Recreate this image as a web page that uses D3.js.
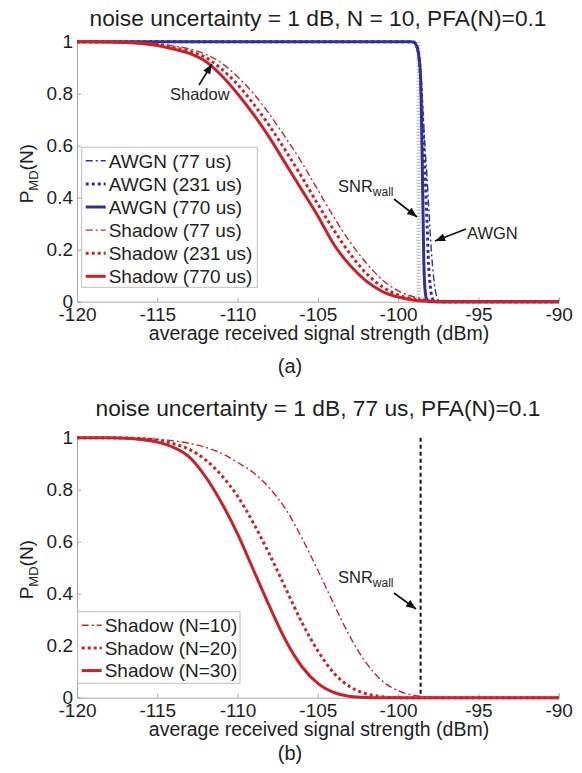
<!DOCTYPE html>
<html>
<head>
<meta charset="utf-8">
<script src="https://cdn.jsdelivr.net/npm/d3@7"></script>
<style>
body { margin: 0; background: #fff; }
text { font-family: "Liberation Sans", Arial, sans-serif; fill: #1e1e1e; }
</style>
</head>
<body>
<svg id="chart" width="582" height="773"></svg>
<script>
// tick labels
var xTicks = [-120, -115, -110, -105, -100, -95, -90];
var yTicks = [0, 0.2, 0.4, 0.6, 0.8, 1];

// signal strength grid (dBm) for the shadow curves
var xs = [-120, -119, -118, -117, -116, -115, -114, -113, -112, -111, -110, -109, -108, -107, -106,
          -105, -104, -103, -102, -101, -100, -99, -98, -97, -96, -95, -94, -93, -92, -91, -90];

// panel (a): shadow curves
var shadow77  = [1, 1, 1, 0.999, 0.997, 0.992, 0.984, 0.972, 0.952, 0.918, 0.865, 0.80, 0.72, 0.63, 0.535,
                 0.43, 0.325, 0.23, 0.15, 0.085, 0.042, 0.018, 0.006, 0.002, 0, 0, 0, 0, 0, 0, 0];
var shadow231 = [1, 1, 1, 0.998, 0.995, 0.989, 0.978, 0.963, 0.94, 0.895, 0.835, 0.76, 0.675, 0.58, 0.48,
                 0.375, 0.275, 0.185, 0.11, 0.058, 0.026, 0.01, 0.003, 0, 0, 0, 0, 0, 0, 0, 0];
var shadow770 = [1, 1, 0.999, 0.997, 0.993, 0.985, 0.972, 0.955, 0.925, 0.87, 0.80, 0.72, 0.63, 0.53, 0.43,
                 0.33, 0.22, 0.14, 0.08, 0.04, 0.018, 0.006, 0.002, 0, 0, 0, 0, 0, 0, 0, 0];

// panel (a): AWGN curves (finer grid near the wall)
var awgnX   = [-120, -99.2, -99, -98.9, -98.8, -98.7, -98.6, -98.5, -98.4, -98.3, -98.2, -98.1, -98,
               -97.9, -97.8, -97.7, -97.6, -97.5, -97.4, -97.3, -90];
var awgn77  = [1, 1, 0.995, 0.985, 0.965, 0.93, 0.86, 0.77, 0.67, 0.57, 0.48, 0.37, 0.26,
               0.17, 0.1, 0.05, 0.02, 0.007, 0.002, 0, 0];
var awgn231 = [1, 1, 0.998, 0.99, 0.975, 0.94, 0.86, 0.74, 0.6, 0.46, 0.3, 0.14, 0.06,
               0.02, 0.005, 0, 0, 0, 0, 0, 0];
var awgn770 = [1, 1, 0.998, 0.99, 0.975, 0.94, 0.86, 0.55, 0.15, 0.03, 0.005, 0, 0,
               0, 0, 0, 0, 0, 0, 0, 0];

// panel (b): shadow, 77 us
var shadowN10 = [1, 1, 1, 1, 0.998, 0.994, 0.988, 0.978, 0.963, 0.94, 0.905, 0.865, 0.805, 0.725, 0.615,
                 0.49, 0.36, 0.235, 0.135, 0.065, 0.027, 0.009, 0.002, 0, 0, 0, 0, 0, 0, 0, 0];
var shadowN20 = [1, 1, 1, 0.999, 0.996, 0.99, 0.977, 0.955, 0.915, 0.855, 0.775, 0.67, 0.55, 0.42, 0.29,
                 0.18, 0.095, 0.042, 0.015, 0.004, 0, 0, 0, 0, 0, 0, 0, 0, 0, 0, 0];
var shadowN30 = [1, 1, 1, 0.998, 0.993, 0.983, 0.963, 0.925, 0.85, 0.75, 0.63, 0.49, 0.35, 0.22, 0.12,
                 0.055, 0.02, 0.005, 0.001, 0, 0, 0, 0, 0, 0, 0, 0, 0, 0, 0, 0];

var snrWall = -98.6;

var RED = "#cb2229", BLUE = "#30309a";

// line styles
var styles = {
    dashdot: {w: 1.4, dash: "7,3,2,3"},
    dotted:  {w: 3,   dash: "3,3"},
    solid:   {w: 3,   dash: null}
};

var svg = d3.select("#chart");

// arrow head
svg.append("defs").append("marker")
    .attr("id", "arrow")
    .attr("markerUnits", "userSpaceOnUse")
    .attr("viewBox", "0 0 10 8")
    .attr("refX", 10).attr("refY", 4)
    .attr("markerWidth", 11).attr("markerHeight", 8)
    .attr("orient", "auto")
    .append("path").attr("d", "M0,0 L10,4 L0,8 Z").attr("fill", "#111");

function zip(x, y) {
    return x.map(function(d, i) { return {x: d, y: y[i]}; });
}

function drawPanel(p) {
    var x = d3.scaleLinear().domain([-120, -90]).range([77, 558.7]);
    var y = d3.scaleLinear().domain([0, 1]).range([p.y0, p.y0 - 260]);
    var g = svg.append("g");

    // axes (left + bottom only, ticks inward), plain hyphen minus like the original
    var xAxis = d3.axisBottom(x).tickValues(xTicks).tickSize(-4).tickFormat(function(d) { return String(d); });
    var yAxis = d3.axisLeft(y).tickValues(yTicks).tickSize(-4).tickFormat(function(d) { return d === 0 || d === 1 ? String(d) : d.toFixed(1); });

    var gx = g.append("g").attr("transform", "translate(0," + p.y0 + ")").call(xAxis);
    var gy = g.append("g").attr("transform", "translate(77,0)").call(yAxis);
    [gx, gy].forEach(function(a) {
        a.select(".domain").attr("stroke", "#a8a8a8");
        a.selectAll(".tick line").attr("stroke", "#a8a8a8");
        a.selectAll(".tick text").attr("font-size", 19).attr("fill", "#1e1e1e")
            .attr("font-family", "Liberation Sans, Arial, sans-serif");
    });
    gx.selectAll(".tick text").attr("y", 6).attr("dy", "0.71em");
    gy.selectAll(".tick text").attr("x", -4);

    // wall marker
    if (p.wall === "hatch") {
        g.append("line")
            .attr("x1", x(snrWall) - 2).attr("x2", x(snrWall) - 2)
            .attr("y1", y(1)).attr("y2", y(0))
            .attr("stroke", "#b0b0b0").attr("stroke-width", 4).attr("stroke-dasharray", "1,2");
    } else {
        g.append("line")
            .attr("x1", x(snrWall)).attr("x2", x(snrWall))
            .attr("y1", y(1)).attr("y2", y(0))
            .attr("stroke", "#111").attr("stroke-width", 2).attr("stroke-dasharray", "4,3");
    }

    var line = d3.line()
        .x(function(d) { return x(d.x); })
        .y(function(d) { return y(d.y); })
        .curve(d3.curveMonotoneX);

    p.series.forEach(function(s) {
        var st = styles[s.style];
        g.append("path")
            .datum(zip(s.x, s.y))
            .attr("d", line)
            .attr("fill", "none")
            .attr("stroke", s.color)
            .attr("stroke-width", st.w)
            .attr("stroke-dasharray", st.dash);
    });

    // title, labels
    g.append("text").attr("x", 318).attr("y", p.titleY)
        .attr("text-anchor", "middle").attr("font-size", 21.5)
        .attr("textLength", p.titleW).attr("lengthAdjust", "spacingAndGlyphs")
        .text(p.title);
    g.append("text").attr("x", 319).attr("y", p.y0 + 38)
        .attr("text-anchor", "middle").attr("font-size", 19.5)
        .text("average received signal strength (dBm)");
    g.append("text").attr("x", 290).attr("y", p.y0 + p.capY)
        .attr("text-anchor", "middle").attr("font-size", 20)
        .text(p.caption);

    var yl = g.append("text")
        .attr("transform", "translate(33," + (p.y0 - 128) + ") rotate(-90)")
        .attr("text-anchor", "middle").attr("font-size", 19);
    yl.append("tspan").text("P");
    yl.append("tspan").attr("font-size", 13).attr("dy", 5).text("MD");
    yl.append("tspan").attr("dy", -5).text("(N)");

    // legend
    var L = p.legend;
    var lg = g.append("g");
    lg.append("rect")
        .attr("x", L.x).attr("y", L.y).attr("width", L.w).attr("height", L.h)
        .attr("fill", "#fff").attr("stroke", "#bdbdbd").attr("stroke-width", 1);
    p.series.forEach(function(s, i) {
        var st = styles[s.style];
        var cy = L.y + 13.5 + i * L.step;
        lg.append("line")
            .attr("x1", L.x + 4).attr("x2", L.x + 24)
            .attr("y1", cy).attr("y2", cy)
            .attr("stroke", s.color).attr("stroke-width", st.w)
            .attr("stroke-dasharray", st.dash);
        lg.append("text")
            .attr("x", L.x + 27).attr("y", cy).attr("dy", "0.36em")
            .attr("font-size", 19).text(s.name);
    });

    // annotations
    p.notes.forEach(function(n) {
        var t = g.append("text").attr("x", n.tx).attr("y", n.ty).attr("font-size", 16.5);
        if (n.sub) {
            t.append("tspan").text(n.text);
            t.append("tspan").attr("font-size", 12).attr("dy", 4).text(n.sub);
        } else {
            t.text(n.text);
        }
        g.append("line")
            .attr("x1", n.a[0]).attr("y1", n.a[1]).attr("x2", n.a[2]).attr("y2", n.a[3])
            .attr("stroke", "#111").attr("stroke-width", 1.6)
            .attr("marker-end", "url(#arrow)");
    });
}

drawPanel({
    y0: 301.7,
    title: "noise uncertainty = 1 dB, N = 10, PFA(N)=0.1",
    titleY: 25.5, titleW: 457,
    caption: "(a)", capY: 71,
    wall: "hatch",
    series: [
        {name: "AWGN (77 us)",    x: awgnX, y: awgn77,  color: BLUE, style: "dashdot"},
        {name: "AWGN (231 us)",   x: awgnX, y: awgn231, color: BLUE, style: "dotted"},
        {name: "AWGN (770 us)",   x: awgnX, y: awgn770, color: BLUE, style: "solid"},
        {name: "Shadow (77 us)",  x: xs, y: shadow77,  color: RED, style: "dashdot"},
        {name: "Shadow (231 us)", x: xs, y: shadow231, color: RED, style: "dotted"},
        {name: "Shadow (770 us)", x: xs, y: shadow770, color: RED, style: "solid"}
    ],
    legend: {x: 81.7, y: 147.3, w: 175.6, h: 140, step: 23.1},
    notes: [
        {text: "Shadow", tx: 170, ty: 100, a: [199, 85, 212, 64]},
        {text: "SNR", sub: "wall", tx: 338, ty: 192, a: [394, 199, 417, 217]},
        {text: "AWGN", tx: 467, ty: 239, a: [466, 229, 435, 241]}
    ]
});

drawPanel({
    y0: 697.7,
    title: "noise uncertainty = 1 dB, 77 us, PFA(N)=0.1",
    titleY: 416, titleW: 445,
    caption: "(b)", capY: 62,
    wall: "dash",
    series: [
        {name: "Shadow (N=10)", x: xs, y: shadowN10, color: RED, style: "dashdot"},
        {name: "Shadow (N=20)", x: xs, y: shadowN20, color: RED, style: "dotted"},
        {name: "Shadow (N=30)", x: xs, y: shadowN30, color: RED, style: "solid"}
    ],
    legend: {x: 77.7, y: 611.7, w: 162.3, h: 71.6, step: 22.7},
    notes: [
        {text: "SNR", sub: "wall", tx: 338, ty: 583, a: [394, 593, 416, 609]}
    ]
});
</script>
</body>
</html>
